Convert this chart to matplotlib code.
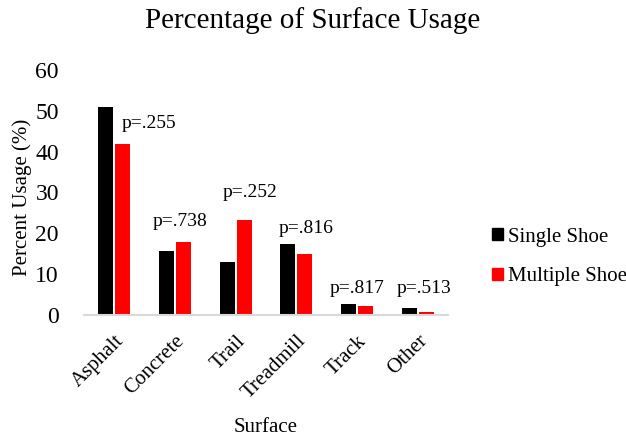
import matplotlib
matplotlib.use("Agg")
import matplotlib.pyplot as plt
from matplotlib.patches import Patch
import numpy as np

categories = ["Asphalt", "Concrete", "Trail", "Treadmill", "Track", "Other"]
single_shoe = [51.0, 15.7, 12.9, 17.3, 2.7, 1.8]
multiple_shoe = [42.0, 17.9, 23.2, 14.9, 2.3, 0.8]
p_labels = ["p=.255", "p=.738", "p=.252", "p=.816", "p=.817", "p=.513"]
p_label_y = [47.0, 22.8, 29.9, 21.1, 6.6, 6.6]
p_label_dx = [0.57, 0.08, 0.24, 0.16, 0.0, 0.10]
yticks = [0, 10, 20, 30, 40, 50, 60]

plt.rcParams['font.family'] = ['Liberation Serif', 'DejaVu Serif']

fig = plt.figure(figsize=(6.26, 4.37), dpi=100)
ax = fig.add_axes([84/626, 1-315/437, (448-84)/626, (315-70)/437])

x = np.arange(len(categories))
w = 0.25
off = 0.14
ax.bar(x - off, single_shoe, width=w, color="black", label="Single Shoe")
ax.bar(x + off, multiple_shoe, width=w, color="#FF0000", label="Multiple Shoe")

for xi, dx, yv, t in zip(x, p_label_dx, p_label_y, p_labels):
    ax.text(xi + dx, yv, t, ha="center", va="center", fontsize=14)

ax.set_xlim(-0.5, len(categories) - 0.5)
ax.set_ylim(0, 60)
ax.set_yticks(yticks)
ax.set_xticks(x)
ax.set_xticklabels(categories, rotation=45, ha="right", rotation_mode="anchor", fontsize=15)
ax.tick_params(axis="y", labelsize=17, length=0, pad=18)
ax.tick_params(axis="x", length=0, pad=12)
for s in ["top", "right", "left"]:
    ax.spines[s].set_visible(False)
ax.spines["bottom"].set_color("#D9D9D9")
ax.spines["bottom"].set_linewidth(1.5)

fig.text(22/626, 1-197/437, "Percent Usage (%)", ha="center", va="center", rotation=90, fontsize=15)
fig.text(266/626, 1-427/437, "Surface", ha="center", va="center", fontsize=15)
fig.text(313/626, 1-21/437, "Percentage of Surface Usage", ha="center", va="center", fontsize=21)

handles = [Patch(color="black", label="Single Shoe"), Patch(color="#FF0000", label="Multiple Shoe")]
fig.legend(handles=handles, loc="center left", bbox_to_anchor=(477/626, 1-257/437),
           frameon=False, fontsize=15, handlelength=0.55, handleheight=0.55,
           handletextpad=0.25, labelspacing=1.0, borderpad=0.2)

fig.savefig("out.png", dpi=100)
